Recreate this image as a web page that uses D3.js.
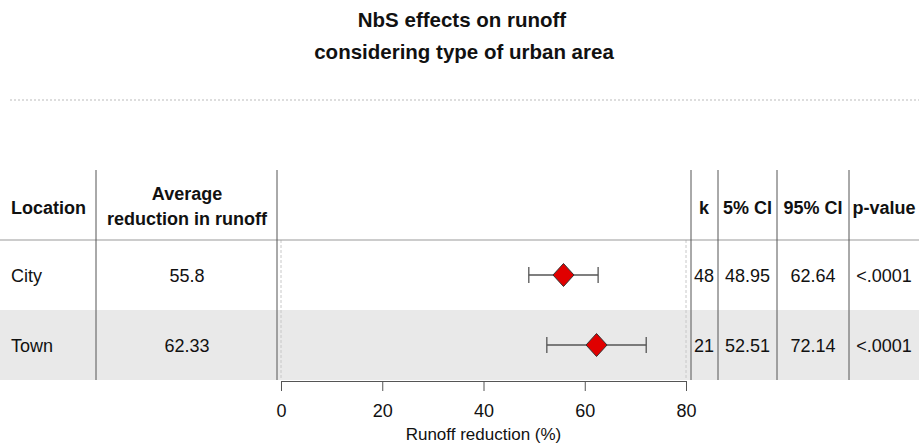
<!DOCTYPE html>
<html>
<head>
<meta charset="utf-8">
<script src="https://cdn.jsdelivr.net/npm/d3@7"></script>
<style>
  body { margin: 0; background: #fff; }
  text { font-family: "Liberation Sans", Arial, sans-serif; fill: #111; }
</style>
</head>
<body>
<svg id="chart" width="919" height="445"></svg>
<script>
// data
var locations = ["City", "Town"];
var avgLabels = ["55.8", "62.33"];
var estimates = [55.8, 62.33];
var ciLow = [48.95, 52.51];
var ciHigh = [62.64, 72.14];
var kValues = ["48", "21"];
var ciLowLabels = ["48.95", "52.51"];
var ciHighLabels = ["62.64", "72.14"];
var pValues = ["<.0001", "<.0001"];
var xTicks = [0, 20, 40, 60, 80];

var svg = d3.select("#chart");

// title
svg.append("text").attr("x", 462).attr("y", 27).attr("text-anchor", "middle")
   .style("font-weight", "bold").style("font-size", "20.5px").text("NbS effects on runoff");
svg.append("text").attr("x", 464).attr("y", 59).attr("text-anchor", "middle")
   .style("font-weight", "bold").style("font-size", "20.5px").text("considering type of urban area");

// dotted separator
svg.append("line").attr("x1", 10).attr("x2", 919).attr("y1", 100).attr("y2", 100)
   .style("stroke", "#bbb").style("stroke-width", 1.2).style("stroke-dasharray", "2,2");

var headTop = 170, headBottom = 240, rowH = 70;
var y = d3.scaleBand().domain(locations).range([headBottom, headBottom + rowH * locations.length]);
var x = d3.scaleLinear().domain([0, 80]).range([281, 686]);

// row backgrounds
svg.selectAll(".rowbg").data(locations).enter().append("rect")
   .attr("class", "rowbg")
   .attr("x", 0).attr("width", 919)
   .attr("y", (d) => y(d)).attr("height", y.bandwidth())
   .style("fill", (d, i) => i % 2 ? "#e9e9e9" : "#fff");

// dashed plot bounds
[0, 80].forEach(function(v){
  svg.append("line").attr("x1", x(v)).attr("x2", x(v)).attr("y1", headBottom).attr("y2", y.range()[1])
     .style("stroke", "#c8c8c8").style("stroke-dasharray", "3,2");
});

// header line
svg.append("line").attr("x1", 0).attr("x2", 919).attr("y1", headBottom).attr("y2", headBottom)
   .style("stroke", "#999").style("stroke-width", 1);

// vertical column separators
var seps = [96, 277, 691, 718, 777, 849];
svg.selectAll(".sep").data(seps).enter().append("line")
   .attr("class", "sep")
   .attr("x1", (d) => d).attr("x2", (d) => d)
   .attr("y1", headTop).attr("y2", y.range()[1])
   .style("stroke", "#555").style("stroke-width", 1);

// headers
var hdr = svg.append("g").style("font-weight", "bold").style("font-size", "18px");
hdr.append("text").attr("x", 11).attr("y", 214).text("Location");
hdr.append("text").attr("x", 187).attr("y", 200).attr("text-anchor", "middle").text("Average");
hdr.append("text").attr("x", 187).attr("y", 225).attr("text-anchor", "middle").text("reduction in runoff");
hdr.append("text").attr("x", 704).attr("y", 214).attr("text-anchor", "middle").text("k");
hdr.append("text").attr("x", 747.5).attr("y", 214).attr("text-anchor", "middle").text("5% CI");
hdr.append("text").attr("x", 813).attr("y", 214).attr("text-anchor", "middle").text("95% CI");
hdr.append("text").attr("x", 884).attr("y", 214).attr("text-anchor", "middle").text("p-value");

// row texts
var cols = [
  {vals: locations, x: 11, anchor: "start"},
  {vals: avgLabels, x: 187, anchor: "middle"},
  {vals: kValues, x: 704, anchor: "middle"},
  {vals: ciLowLabels, x: 747.5, anchor: "middle"},
  {vals: ciHighLabels, x: 813, anchor: "middle"},
  {vals: pValues, x: 884, anchor: "middle"}
];
cols.forEach(function(c){
  svg.selectAll(null).data(c.vals).enter().append("text")
     .attr("x", c.x)
     .attr("y", (d, i) => y(locations[i]) + y.bandwidth() / 2 + 7)
     .attr("text-anchor", c.anchor)
     .style("font-size", "18px")
     .text((d) => d);
});

// error bars
var g = svg.append("g");
var capH = 8;
locations.forEach(function(loc, i){
  var cy = y(loc) + y.bandwidth() / 2;
  g.append("line").attr("x1", x(ciLow[i])).attr("x2", x(ciHigh[i])).attr("y1", cy).attr("y2", cy)
   .style("stroke", "#555").style("stroke-width", 1.3);
  [ciLow[i], ciHigh[i]].forEach(function(v){
    g.append("line").attr("x1", x(v)).attr("x2", x(v)).attr("y1", cy - capH).attr("y2", cy + capH)
     .style("stroke", "#555").style("stroke-width", 1.3);
  });
});

// diamonds
g.selectAll(".pt").data(estimates).enter().append("path")
 .attr("class", "pt")
 .attr("transform", (d, i) => "translate(" + x(d) + "," + (y(locations[i]) + y.bandwidth() / 2) + ")")
 .attr("d", "M0,-11.5L10.5,0L0,11.5L-10.5,0Z")
 .style("fill", "#e00000").style("stroke", "#333").style("stroke-width", 1);

// axis
var axis = svg.append("g").attr("transform", "translate(0," + (y.range()[1] + 1) + ")")
   .call(d3.axisBottom(x).tickValues(xTicks).tickSize(10).tickPadding(13));
axis.select(".domain").style("stroke", "#555");
axis.selectAll(".tick line").style("stroke", "#555");
axis.selectAll(".tick text").style("font-size", "18px").style("fill", "#111")
    .style("font-family", "'Liberation Sans', Arial, sans-serif");

svg.append("text").attr("x", x(40)).attr("y", 440).attr("text-anchor", "middle")
   .style("font-size", "17px").text("Runoff reduction (%)");
</script>
</body>
</html>
